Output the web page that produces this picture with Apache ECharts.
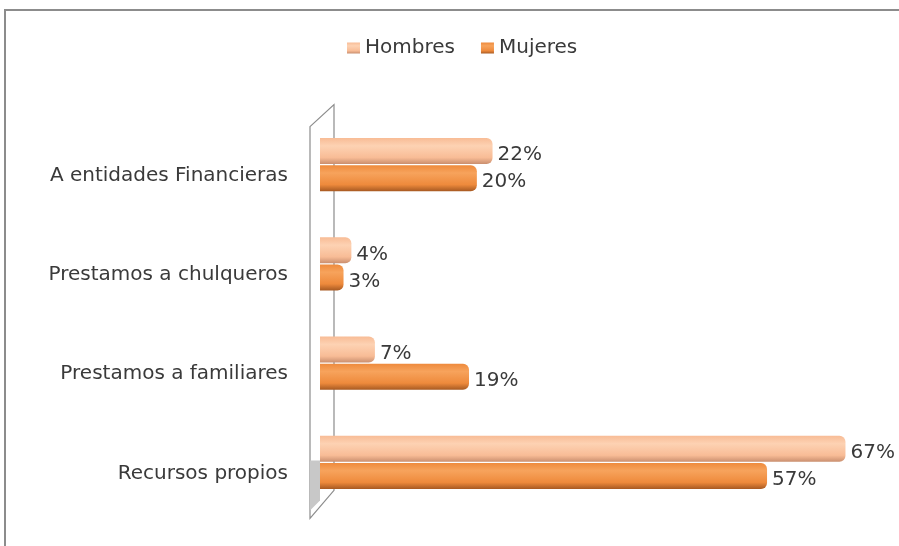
<!DOCTYPE html>
<html>
<head>
<meta charset="utf-8">
<script src="https://cdn.jsdelivr.net/npm/echarts@6/dist/echarts.min.js"></script>
<style>
  html, body { margin: 0; padding: 0; background: #fff; }
  #chart { width: 899px; height: 546px; }
</style>
</head>
<body>
<div id="chart"></div>
<script>
// categories listed bottom -> top (ECharts category y axis starts at the bottom)
const categories = ['Recursos propios', 'Prestamos a familiares', 'Prestamos a chulqueros', 'A entidades Financieras'];
const hombres = [67, 7, 4, 22];
const mujeres = [57, 19, 3, 20];

const FONT = 'DejaVu Sans';

function cyl(light, mid, dark) {
    return new echarts.graphic.LinearGradient(0, 0, 0, 1, [
        { offset: 0, color: mid },
        { offset: 0.3, color: light },
        { offset: 0.75, color: mid },
        { offset: 1, color: dark },
    ]);
}

const chart = echarts.init(document.getElementById('chart'), null, { renderer: 'canvas' });

const labelStyle = {
    show: true,
    position: 'right',
    distance: 5,
    offset: [0, 4],
    formatter: '{c}%',
    color: '#3a3a3a',
    fontSize: 20,
    fontFamily: FONT,
};

chart.setOption({
    backgroundColor: '#fff',
    animation: false,
    legend: {
        top: 33,
        left: 342,
        itemWidth: 13,
        itemHeight: 11,
        itemGap: 26,
        icon: 'rect',
        textStyle: { color: '#3a3a3a', fontSize: 20, fontFamily: FONT },
        data: ['Hombres', 'Mujeres'],
    },
    grid: { left: 320, right: 30, top: 115, bottom: 34 },
    xAxis: {
        type: 'value',
        min: 0,
        max: 70,
        show: false,
    },
    yAxis: {
        type: 'category',
        data: categories,
        axisLine: { show: false },
        axisTick: { show: false },
        axisLabel: {
            color: '#3a3a3a',
            fontSize: 20,
            fontFamily: FONT,
            margin: 32,
            verticalAlign: 'top',
            lineHeight: 22,
        },
    },
    series: [
        {
            name: 'Hombres',
            type: 'bar',
            data: hombres,
            barWidth: 26,
            barGap: '4%',
            itemStyle: {
                color: cyl('#FDD2B3', '#F8BC96', '#C98E6E'),
                borderRadius: [0, 6, 6, 0],
            },
            label: labelStyle,
        },
        {
            name: 'Mujeres',
            type: 'bar',
            data: mujeres,
            barWidth: 26,
            barGap: '4%',
            itemStyle: {
                color: cyl('#F7A35C', '#EE8A3C', '#A85A22'),
                borderRadius: [0, 6, 6, 0],
            },
            label: labelStyle,
        },
    ],
});

// chart frame and the 3D axis wall, placed from the grid's own scale
function drawDecor() {
    const top = chart.convertToPixel({ yAxisIndex: 0 }, categories[categories.length - 1]);
    const bottom = chart.convertToPixel({ yAxisIndex: 0 }, categories[0]);
    const x0 = chart.convertToPixel({ xAxisIndex: 0 }, 0);
    const half = 50;
    const yTop = top - half;
    const yBot = bottom + half;
    chart.setOption({
        graphic: [
            {
                type: 'rect',
                shape: { x: 5, y: 10, width: 1000, height: 1000 },
                style: { fill: 'none', stroke: '#8c8c8c', lineWidth: 2 },
                silent: true,
            },
            {
                type: 'polygon',
                z: -1,
                shape: {
                    points: [
                        [x0 - 10, yTop + 12], [x0 + 14, yTop - 10],
                        [x0 + 14, yBot - 22], [x0 - 10, yBot + 6],
                    ],
                },
                style: { fill: '#fff', stroke: '#8c8c8c', lineWidth: 1.2 },
                silent: true,
            },
            {
                type: 'polygon',
                z: -1,
                shape: {
                    points: [
                        [x0 - 10, bottom - 2], [x0, bottom - 2],
                        [x0, yBot - 12], [x0 - 10, yBot - 2],
                    ],
                },
                style: { fill: '#c8c8c8' },
                silent: true,
            },
        ],
    });
}
drawDecor();
</script>
</body>
</html>
